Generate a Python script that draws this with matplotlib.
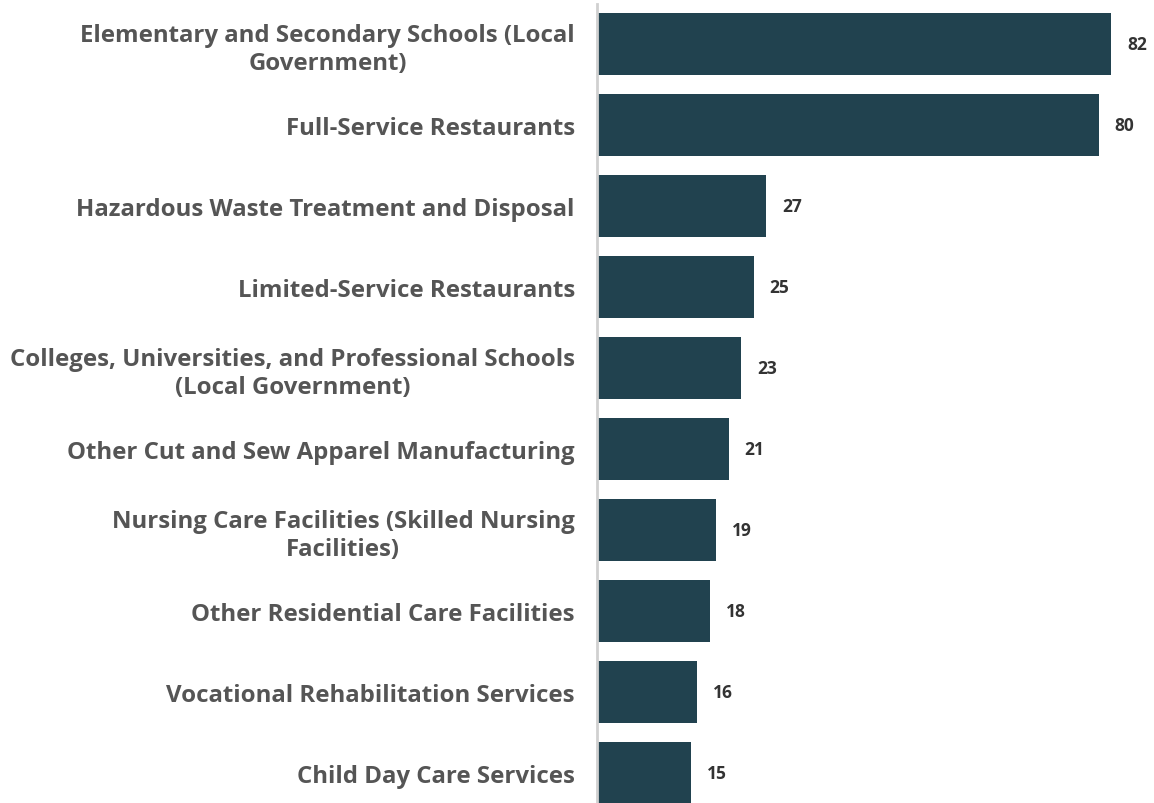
import matplotlib
matplotlib.use("Agg")
import matplotlib.pyplot as plt

categories = [
    "Elementary and Secondary Schools (Local\nGovernment)",
    "Full-Service Restaurants",
    "Hazardous Waste Treatment and Disposal",
    "Limited-Service Restaurants",
    "Colleges, Universities, and Professional Schools\n(Local Government)",
    "Other Cut and Sew Apparel Manufacturing",
    "Nursing Care Facilities (Skilled Nursing\nFacilities)",
    "Other Residential Care Facilities",
    "Vocational Rehabilitation Services",
    "Child Day Care Services",
]
values = [82, 80, 27, 25, 23, 21, 19, 18, 16, 15]

BAR = "#21424F"
LABEL = "#555555"

plt.rcParams["font.family"] = ["Open Sans", "DejaVu Sans"]

fig = plt.figure(figsize=(11.54, 8.04), dpi=100)
ax = fig.add_axes([597 / 1154, 0, 1 - 597 / 1154, 799 / 804])

pos = range(len(values))
ax.barh(pos, values, height=0.765, color=BAR)
for y, v in zip(pos, values):
    ax.text(v + 2.5, y, str(v), va="center", ha="left",
            fontsize=12.5, fontweight="bold", color="#333333")

ax.set_xlim(0, 88.8)
ax.set_ylim(9.37, -0.49)
ax.set_yticks(list(pos))
ax.set_yticklabels(categories, fontsize=17.3, fontweight="bold", color=LABEL,
                   multialignment="center", linespacing=1.22)
ax.tick_params(axis="y", length=0, pad=16)
ax.set_xticks([])

for side in ("top", "right", "bottom"):
    ax.spines[side].set_visible(False)
ax.spines["left"].set_color("#d0d0d0")
ax.spines["left"].set_linewidth(2)

fig.savefig("out.png", dpi=100)
